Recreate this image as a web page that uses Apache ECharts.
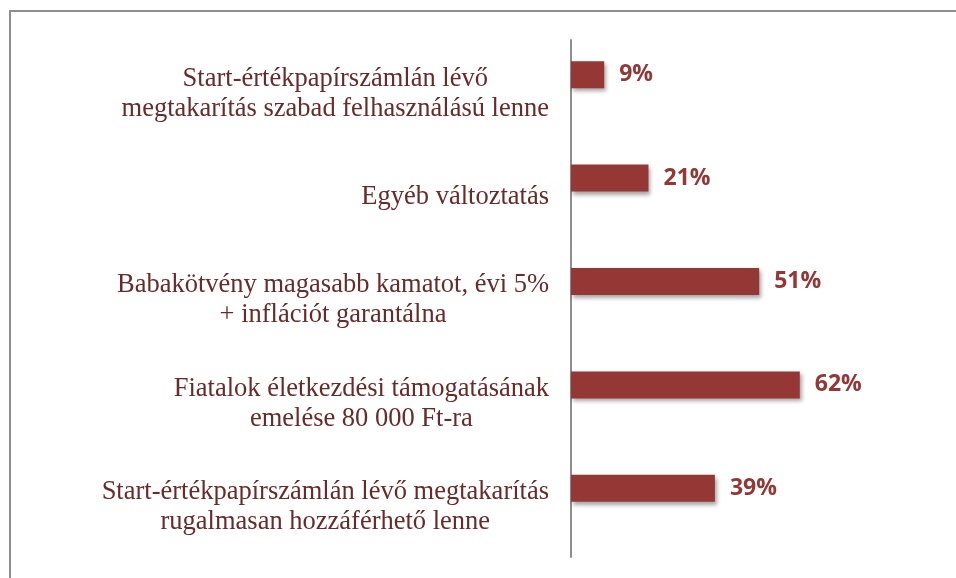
<!DOCTYPE html>
<html>
<head>
<meta charset="utf-8">
<script src="https://cdn.jsdelivr.net/npm/echarts@6/dist/echarts.min.js"></script>
<style>
    html, body { margin: 0; padding: 0; background: #fff; }
    #frame {
        position: absolute; left: 9px; top: 10px; width: 960px; height: 600px;
        border: 2px solid #8e8e8e; box-sizing: border-box;
    }
    #main { position: absolute; left: 0; top: 0; width: 956px; height: 578px; }
</style>
</head>
<body>
<div id="frame"></div>
<div id="main"></div>
<script>
// adatok
var categories = [
    "Start-értékpapírszámlán lévő\nmegtakarítás szabad felhasználású lenne",
    "Egyéb változtatás",
    "Babakötvény magasabb kamatot, évi 5%\n+ inflációt garantálna",
    "Fiatalok életkezdési támogatásának\nemelése 80 000 Ft-ra",
    "Start-értékpapírszámlán lévő megtakarítás\nrugalmasan hozzáférhető lenne"
];
var values = [9, 21, 51, 62, 39];
// üres sorozat, csak hogy a oszlopok feljebb kerüljenek a sávon belül
var spacer = [null, null, null, null, null];

(function () {
    var myChart = echarts.init(document.getElementById("main"));

    var option = {
        animation: false,
        grid: {
            top: 40,
            bottom: 21,
            left: 571,
            right: 16
        },
        xAxis: {
            type: "value",
            min: 0,
            max: 100,
            show: false
        },
        yAxis: {
            type: "category",
            inverse: true,
            data: categories,
            axisTick: { show: false },
            axisLine: {
                lineStyle: { color: "#8e8e8e", width: 2 }
            },
            axisLabel: {
                margin: 22,
                align: "right",
                padding: [4, 0, 0, 0],
                // minden sort középre igazítunk
                formatter: function (value) {
                    return value.split("\n").map(function (s) {
                        return "{a|" + s + "}";
                    }).join("\n");
                },
                rich: {
                    a: {
                        align: "center",
                        fontFamily: "Liberation Serif",
                        fontSize: 26.5,
                        lineHeight: 30,
                        color: "#6b2a2a"
                    }
                }
            }
        },
        series: [
            {
                type: "bar",
                data: values,
                barWidth: 27,
                barGap: "26%",
                itemStyle: {
                    color: "#953735",
                    shadowColor: "rgba(0,0,0,0.35)",
                    shadowBlur: 4,
                    shadowOffsetX: 2,
                    shadowOffsetY: 3
                },
                label: {
                    show: true,
                    position: "right",
                    distance: 15,
                    formatter: "{c}%",
                    fontFamily: "Open Sans",
                    fontWeight: "bold",
                    fontSize: 23,
                    color: "#953735"
                }
            },
            {
                type: "bar",
                data: spacer,
                barWidth: 27,
                silent: true
            }
        ]
    };

    myChart.setOption(option);
    window.addEventListener("resize", function () {
        myChart.resize();
    });
})();
</script>
</body>
</html>
